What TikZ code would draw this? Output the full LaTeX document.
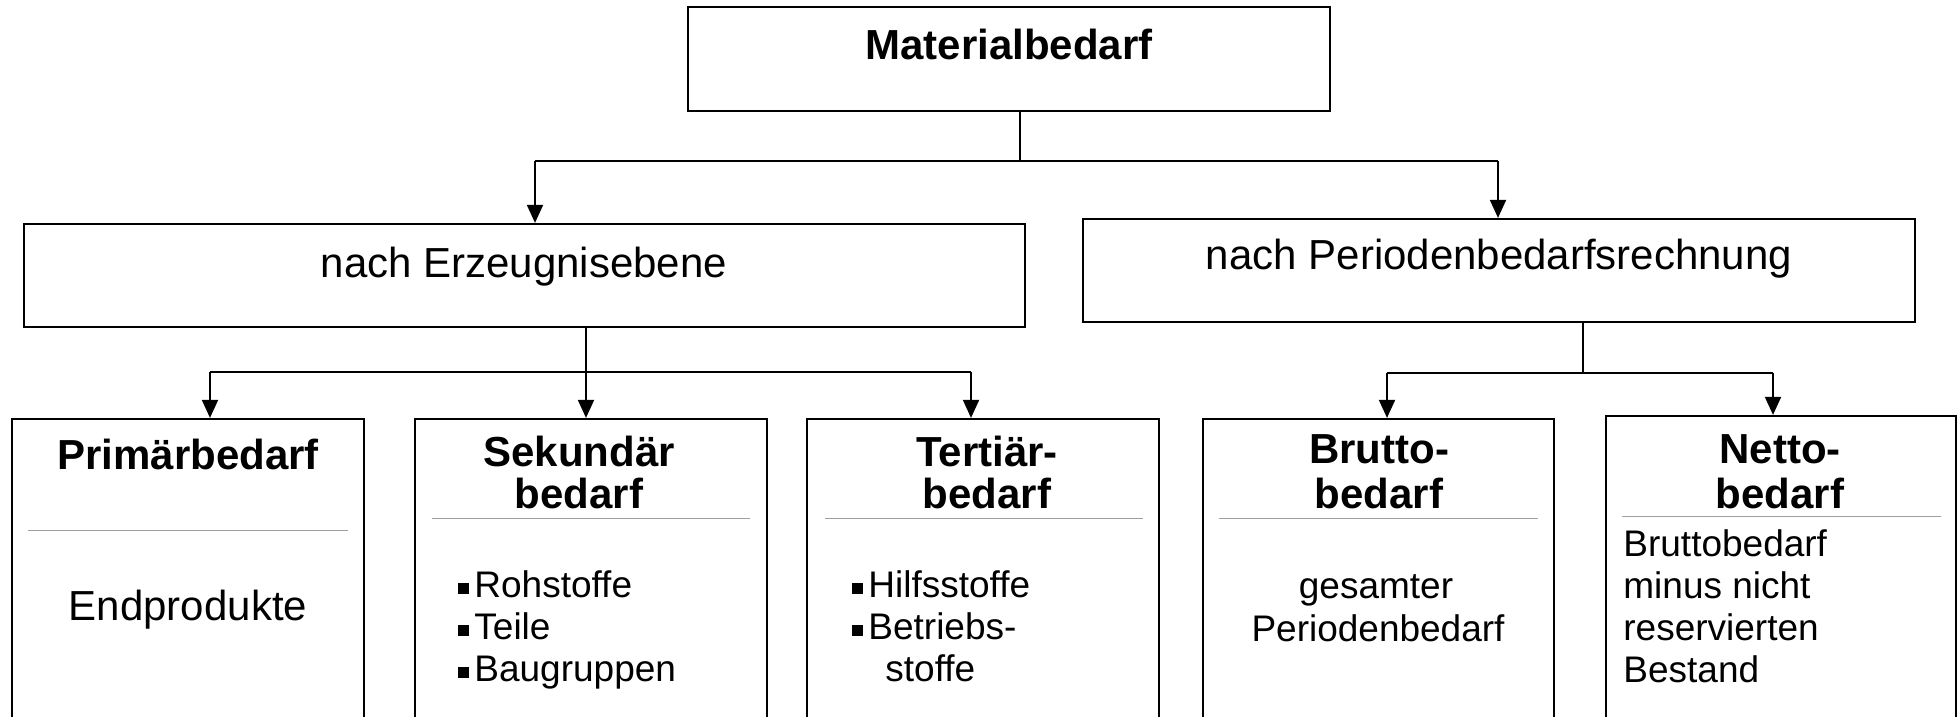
\documentclass[tikz,border=0pt]{standalone}
\usepackage{fontspec}
\setmainfont{Liberation Sans}
\usetikzlibrary{arrows.meta}
\newcommand\sqbul{\rule[1.5pt]{5.5pt}{5.5pt}\hspace{2.5pt}}
\begin{document}
\begin{tikzpicture}[x=0.5pt,y=-0.5pt,
  box/.style={draw, line width=1.1pt, inner sep=0pt},
  conn/.style={line width=0.9pt},
  arr/.style={conn, -{Triangle[width=8pt,length=9pt]}},
  sepline/.style={draw=gray!75, line width=0.5pt},
  big/.style={font=\fontsize{21}{21}\selectfont, inner sep=0pt},
  bigb/.style={font=\fontsize{21}{21}\selectfont\bfseries, inner sep=0pt},
  small/.style={font=\fontsize{18.5}{18.5}\selectfont, inner sep=0pt},
  lowbox/.style={box, minimum width=176pt, minimum height=163pt}]
\useasboundingbox (0,0) rectangle (1959,717);
\clip (0,0) rectangle (1959,717);

% top level
\node[box, minimum width=321pt, minimum height=52pt] (mat) at (1009,59) {};
\node[bigb, anchor=base] (matT) at (1009,60) {Materialbedarf};

% second level
\node[box, minimum width=500.5pt, minimum height=51.5pt] (erz) at (524.5,275.5) {};
\node[big, anchor=base] (erzT) at (524,277) {nach Erzeugnisebene};
\node[box, minimum width=416pt, minimum height=51.5pt] (per) at (1499,270.5) {};
\node[big, anchor=base] (perT) at (1499,269) {nach Periodenbedarfsrechnung};

% third level (boxes run past the lower edge)
\node[lowbox] (prim) at (188,582) {};
\node[lowbox] (sek) at (591,582) {};
\node[lowbox] (ter) at (983,582) {};
\node[lowbox, minimum width=175.5pt] (bru) at (1378.5,582) {};
\node[lowbox, minimum width=175pt, minimum height=164.5pt] (net) at (1781,580.5) {};

% connectors
\coordinate (j1) at (1020,161);
\draw[conn] (j1 |- mat.south) -- (j1);
\draw[conn] (535,161) -- (1498,161);
\draw[arr] (535,161) -- (535,0 |- erz.north);
\draw[arr] (1498,161) -- (1498,0 |- per.north);

\coordinate (j2) at (586,372);
\draw[arr] (j2 |- erz.south) -- (j2 |- sek.north);
\draw[conn] (210,372) -- (971,372);
\draw[arr] (210,372) -- (210,0 |- prim.north);
\draw[arr] (971,372) -- (971,0 |- ter.north);

\coordinate (j3) at (1583,373);
\draw[conn] (j3 |- per.south) -- (j3);
\draw[conn] (1387,373) -- (1773,373);
\draw[arr] (1387,373) -- (1387,0 |- bru.north);
\draw[arr] (1773,373) -- (1773,0 |- net.north);

% separators
\draw[sepline] (28,530) -- (348,530);
\draw[sepline] (432,518) -- (750,518);
\draw[sepline] (825,518) -- (1143,518);
\draw[sepline] (1219,518) -- (1538,518);
\draw[sepline] (1622,516) -- (1941,516);

% Primaerbedarf
\node[bigb, anchor=base] (primT) at (188,469) {Primärbedarf};
\node[big, anchor=base] (primB) at (188,620) {Endprodukte};

% Sekundaerbedarf
\node[bigb, anchor=base] (sekT1) at (579,466) {Sekundär};
\node[bigb, anchor=base] (sekT2) at (579,508) {bedarf};
\node[small, anchor=base west] (sekB1) at (458,597) {\sqbul Rohstoffe};
\node[small, anchor=base west] (sekB2) at (458,639) {\sqbul Teile};
\node[small, anchor=base west] (sekB3) at (458,681) {\sqbul Baugruppen};

% Tertiaerbedarf
\node[bigb, anchor=base] (terT1) at (987,466) {Tertiär-};
\node[bigb, anchor=base] (terT2) at (987,508) {bedarf};
\node[small, anchor=base west] (terB1) at (852,597) {\sqbul Hilfsstoffe};
\node[small, anchor=base west] (terB2) at (852,639) {\sqbul Betriebs-};
\node[small, anchor=base west] (terB3) at (885,681) {stoffe};

% Bruttobedarf
\node[bigb, anchor=base] (bruT1) at (1379,463) {Brutto-};
\node[bigb, anchor=base] (bruT2) at (1379,508) {bedarf};
\node[small, anchor=base] (bruB1) at (1376,598) {gesamter};
\node[small, anchor=base] (bruB2) at (1378,641) {Periodenbedarf};

% Nettobedarf
\node[bigb, anchor=base] (netT1) at (1780,463) {Netto-};
\node[bigb, anchor=base] (netT2) at (1780,508) {bedarf};
\node[small, anchor=base west] (netB1) at (1623,556) {Bruttobedarf};
\node[small, anchor=base west] (netB2) at (1623,598) {minus nicht};
\node[small, anchor=base west] (netB3) at (1623,640) {reservierten};
\node[small, anchor=base west] (netB4) at (1623,682) {Bestand};
\end{tikzpicture}
\end{document}
